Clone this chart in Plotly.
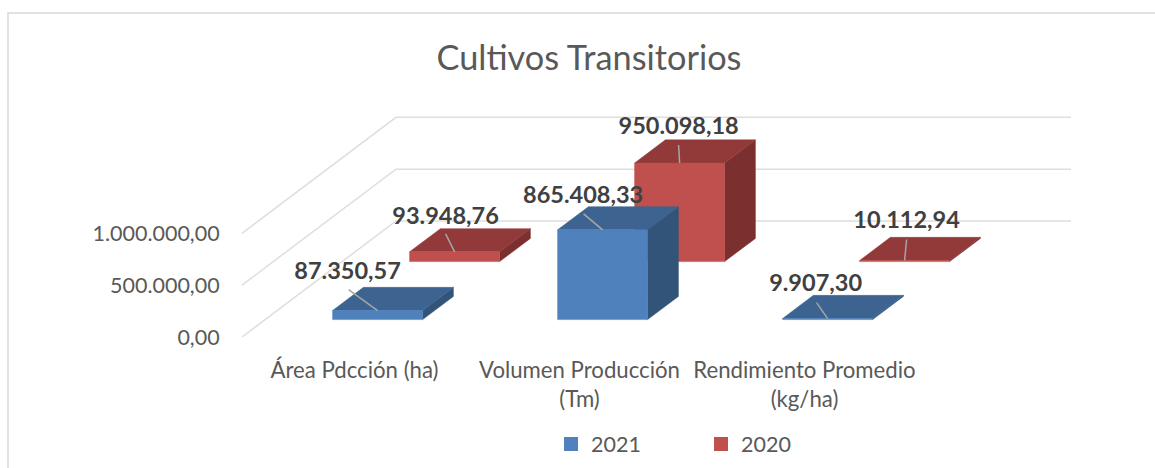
import plotly.graph_objects as go

categories = ["Área Pdcción (ha)", "Volumen Producción<br>(Tm)", "Rendimiento Promedio<br>(kg/ha)"]
series_names = ["2021", "2020"]
values_2021 = [87350.57, 865408.33, 9907.30]
values_2020 = [93948.76, 950098.18, 10112.94]
labels_2021 = ["87.350,57", "865.408,33", "9.907,30"]
labels_2020 = ["93.948,76", "950.098,18", "10.112,94"]
tick_values = [0, 500000, 1000000]
tick_labels = ["0,00", "500.000,00", "1.000.000,00"]

W, H = 1155, 468
X0_PX, Y0_PX = 242, 337          # pixel of category 0 / value 0 at the front of the floor
CAT_PX = 225                     # px per category
VAL_PX = 103.7 / 1_000_000       # px per value unit
DEPTH_DX, DEPTH_DY = 77, 58      # px shift per series row in depth
BAR_LO, BAR_HI = 0.3, 0.7

BLUE = dict(front="#4F81BD", top="#3D6491", side="#335479")
RED = dict(front="#C0504D", top="#913A39", side="#7B302F")
GRID = "#DEDEDE"
LEADER = "#A6A6A6"
FONT = "Lato"

# label placement relative to the top-front centre of each bar, in px
label_shift = [[(-30, -37), (-19.5, -33), (-12, -33)], [(-9, -34), (-1, -35), (2, -38)]]
leader_shift = [[(-29, -21), (-19, -16), (-11, -16)], [(-9, -18), (-1, -18), (2, -21)]]


def proj(cat, val, depth):
    """Oblique projection of (category, value, depth) on the flat x/y axes."""
    return cat + depth * DEPTH_DX / CAT_PX, val + depth * DEPTH_DY / VAL_PX


def poly(points):
    pts = [proj(*p) for p in points]
    pts.append(pts[0])
    return [p[0] for p in pts], [p[1] for p in pts]


def face(x, y, color):
    return go.Scatter(x=x, y=y, mode="lines", fill="toself", fillcolor=color,
                      line=dict(width=0.5, color=color), hoverinfo="skip", showlegend=False)


fig = go.Figure()

# walls / gridlines
n_cat = len(categories)
for t in tick_values:
    pts = [proj(0, t, 0), proj(0, t, 2), proj(n_cat, t, 2)]
    fig.add_trace(go.Scatter(x=[p[0] for p in pts], y=[p[1] for p in pts], mode="lines",
                             line=dict(color=GRID, width=1.5), hoverinfo="skip", showlegend=False))

# bars, back row first
rows = [(1, values_2020, RED), (0, values_2021, BLUE)]
for s, vals, col in rows:
    for i, v in enumerate(vals):
        x0, x1 = i + BAR_LO, i + BAR_HI
        z0, z1 = s + BAR_LO, s + BAR_HI
        fig.add_trace(face(*poly([(x1, 0, z0), (x1, 0, z1), (x1, v, z1), (x1, v, z0)]), col["side"]))
        fig.add_trace(face(*poly([(x0, v, z0), (x1, v, z0), (x1, v, z1), (x0, v, z1)]), col["top"]))
        fig.add_trace(face(*poly([(x0, 0, z0), (x1, 0, z0), (x1, v, z0), (x0, v, z0)]), col["front"]))

# leader lines and data labels
lab_x, lab_y, lab_t = [], [], []
for s, vals, labs in [(0, values_2021, labels_2021), (1, values_2020, labels_2020)]:
    for i, v in enumerate(vals):
        ax, ay = proj(i + 0.5, v, s + BAR_LO)
        dx, dy = leader_shift[s][i]
        fig.add_trace(go.Scatter(x=[ax, ax + dx / CAT_PX], y=[ay, ay - dy / VAL_PX], mode="lines",
                                 line=dict(color=LEADER, width=1.5), hoverinfo="skip", showlegend=False))
        dx, dy = label_shift[s][i]
        lab_x.append(ax + dx / CAT_PX)
        lab_y.append(ay - dy / VAL_PX)
        lab_t.append(labs[i])
fig.add_trace(go.Scatter(x=lab_x, y=lab_y, text=lab_t, mode="text", textposition="middle center",
                         textfont=dict(family=FONT, size=23.5, color="#404040", weight="bold"),
                         hoverinfo="skip", showlegend=False))

# legend entries
for name, col in zip(series_names, [BLUE, RED]):
    fig.add_trace(go.Scatter(x=[None], y=[None], mode="markers", name=name,
                             marker=dict(symbol="square", size=14, color=col["front"])))

fig.update_layout(
    width=W, height=H, margin=dict(l=0, r=0, t=0, b=0), autosize=False,
    paper_bgcolor="white", plot_bgcolor="white",
    title=dict(text="Cultivos Transitorios", x=589 / W, xanchor="center", y=1 - 58 / H, yanchor="middle",
               font=dict(family=FONT, size=34.3, color="#595959")),
    xaxis=dict(range=[-X0_PX / CAT_PX, (W - X0_PX) / CAT_PX], domain=[0, 1], showgrid=False, zeroline=False,
               tickvals=[i + 0.5 for i in range(n_cat)], ticktext=categories,
               anchor="free", position=1 - Y0_PX / H, ticks="outside", ticklen=13, tickcolor="rgba(0,0,0,0)",
               tickfont=dict(family=FONT, size=22.2, color="#595959"), showline=False),
    yaxis=dict(range=[-(H - Y0_PX) / VAL_PX, Y0_PX / VAL_PX], domain=[0, 1], showgrid=False, zeroline=False,
               tickvals=tick_values, ticktext=tick_labels,
               anchor="free", position=X0_PX / W, ticks="outside", ticklen=18, tickcolor="rgba(0,0,0,0)",
               tickfont=dict(family=FONT, size=21.5, color="#595959"), showline=False),
    legend=dict(orientation="h", x=551 / W, xanchor="left", y=1 - 444 / H, yanchor="middle",
                font=dict(family=FONT, size=21.5, color="#595959"), entrywidth=105, entrywidthmode="pixels",
                itemclick=False, itemdoubleclick=False),
    shapes=[dict(type="path", xref="paper", yref="paper",
                 path=f"M {8 / W} 0 L {8 / W} {1 - 13 / H} L 1 {1 - 13 / H}",
                 line=dict(color="#D9D9D9", width=1.5))],
)

fig.write_html("out.html", config=dict(displayModeBar=False),
               post_script="document.body.style.margin='0';")
